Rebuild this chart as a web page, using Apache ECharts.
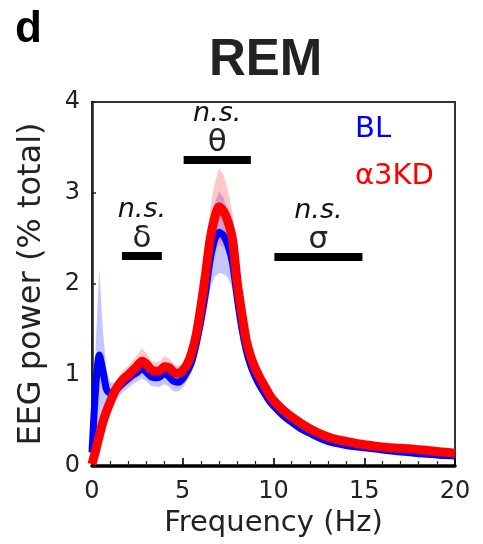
<!DOCTYPE html>
<html>
<head>
<meta charset="utf-8">
<script src="https://cdn.jsdelivr.net/npm/echarts@6/dist/echarts.min.js"></script>
<style>
  html, body { margin: 0; padding: 0; background: #fff; }
  #chart { width: 483px; height: 544px; }
</style>
</head>
<body>
<div id="chart"></div>
<script>
// Frequency bins (Hz)
const freq = [0, 0.2, 0.4, 0.6, 0.8, 1.0,
  1.25, 1.5, 1.75, 2.0, 2.25, 2.5, 2.75, 3.0, 3.25, 3.5, 3.75, 4.0,
  4.25, 4.5, 4.75, 5.0, 5.25, 5.5, 5.75, 6.0, 6.25, 6.5, 6.75, 7.0,
  7.25, 7.5, 7.75, 8.0, 8.25, 8.5, 8.75, 9.0, 9.25, 9.5, 9.75, 10,
  10.5, 11, 11.5, 12, 12.5, 13, 13.5, 14, 14.5, 15, 15.5, 16,
  16.5, 17, 17.5, 18, 18.5, 19, 19.5, 20];

// Baseline (BL) mean REM EEG power and SEM (% total)
const blMean = [0.15, 0.85, 1.22, 1.05, 0.84, 0.80,
  0.82, 0.87, 0.92, 0.96, 1.00, 1.03, 1.07, 1.03, 0.98, 0.97, 0.98, 1.02,
  0.98, 0.93, 0.92, 0.96, 1.04, 1.15, 1.35, 1.60, 1.90, 2.25, 2.48, 2.57,
  2.53, 2.42, 2.22, 1.85, 1.52, 1.27, 1.10, 0.98, 0.88, 0.80, 0.72, 0.66,
  0.56, 0.48, 0.41, 0.36, 0.31, 0.27, 0.245, 0.225, 0.21, 0.20, 0.19, 0.175,
  0.165, 0.155, 0.145, 0.135, 0.13, 0.12, 0.115, 0.11];
const blSem = [0.08, 0.45, 0.95, 0.45, 0.20, 0.12,
  0.10, 0.10, 0.10, 0.10, 0.10, 0.10, 0.11, 0.10, 0.10, 0.10, 0.11, 0.12,
  0.11, 0.11, 0.10, 0.10, 0.10, 0.12, 0.15, 0.20, 0.25, 0.32, 0.40, 0.45,
  0.42, 0.35, 0.28, 0.20, 0.15, 0.10, 0.08, 0.07, 0.06, 0.06, 0.06, 0.05,
  0.05, 0.04, 0.04, 0.04, 0.04, 0.04, 0.04, 0.03, 0.03, 0.03, 0.03, 0.03,
  0.03, 0.03, 0.03, 0.03, 0.03, 0.03, 0.03, 0.03];

// α3 knockdown (α3KD) mean REM EEG power and SEM (% total)
const kdMean = [0.02, 0.17, 0.33, 0.48, 0.60, 0.70,
  0.82, 0.90, 0.96, 1.00, 1.05, 1.10, 1.15, 1.12, 1.06, 1.04, 1.05, 1.09,
  1.08, 1.03, 1.02, 1.05, 1.12, 1.25, 1.45, 1.75, 2.10, 2.48, 2.72, 2.85,
  2.80, 2.68, 2.48, 2.02, 1.68, 1.38, 1.20, 1.07, 0.97, 0.88, 0.79, 0.72,
  0.62, 0.54, 0.47, 0.41, 0.36, 0.32, 0.29, 0.27, 0.25, 0.235, 0.22, 0.21,
  0.20, 0.195, 0.19, 0.18, 0.17, 0.16, 0.15, 0.14];
const kdSem = [0.05, 0.06, 0.07, 0.08, 0.08, 0.08,
  0.08, 0.09, 0.10, 0.10, 0.11, 0.12, 0.14, 0.12, 0.10, 0.10, 0.10, 0.12,
  0.10, 0.09, 0.08, 0.08, 0.10, 0.12, 0.15, 0.20, 0.26, 0.33, 0.38, 0.42,
  0.40, 0.34, 0.28, 0.20, 0.15, 0.10, 0.08, 0.07, 0.06, 0.06, 0.06, 0.05,
  0.05, 0.05, 0.05, 0.05, 0.05, 0.05, 0.05, 0.04, 0.04, 0.04, 0.04, 0.04,
  0.04, 0.04, 0.04, 0.04, 0.04, 0.04, 0.04, 0.04];

// Frequency bands compared between conditions (Hz)
const deltaBand = [1.65, 3.85];
const thetaBand = [5.05, 8.75];
const sigmaBand = [10.05, 14.9];

const yTicks = [0, 1, 2, 3, 4];
const xTicks = [0, 5, 10, 15, 20];

const FONT = 'DejaVu Sans';

function pairs(ys) { return freq.map((f, i) => [f, ys[i]]); }
// rows of [frequency, mean - sem, mean + sem]
function bandRows(mean, sem) { return freq.map((f, i) => [f, mean[i] - sem[i], mean[i] + sem[i]]); }

// Shaded SEM envelope drawn as one polygon through the axis scales
function envelope(rows, fill) {
  return function (params, api) {
    if (params.dataIndex !== 0) return null;
    const top = rows.map(r => api.coord([r[0], r[2]]));
    const bottom = rows.map(r => api.coord([r[0], r[1]])).reverse();
    return {
      type: 'polygon',
      shape: { points: top.concat(bottom) },
      style: { fill: fill, stroke: null }
    };
  };
}

// Significance bar over a frequency band, with "n.s." and the band symbol above it
function bandBar(range, y, greek) {
  return [
    {
      coord: [range[0], y],
      label: {
        show: true,
        position: 'insideMiddleTop',
        distance: 2,
        formatter: '{a|n.s.}\n{b|' + greek + '}',
        rich: {
          a: { fontFamily: FONT, fontStyle: 'italic', fontSize: 27, lineHeight: 28, color: '#111', align: 'center' },
          b: { fontFamily: FONT, fontSize: 31, lineHeight: 30, color: '#222', align: 'center' }
        }
      }
    },
    { coord: [range[1], y] }
  ];
}

const chart = echarts.init(document.getElementById('chart'), null, { renderer: 'canvas' });

const blRows = bandRows(blMean, blSem);
const kdRows = bandRows(kdMean, kdSem);

chart.setOption({
  animation: false,
  backgroundColor: '#fff',
  grid: {
    left: 92, right: 28, top: 102, bottom: 78,
    show: true, borderColor: '#333', borderWidth: 2, backgroundColor: 'transparent'
  },
  legend: {
    orient: 'vertical',
    left: 345, top: 110,
    itemGap: 18,
    itemWidth: 0, itemHeight: 0,
    icon: 'none',
    selectedMode: false,
    textStyle: { fontFamily: FONT, fontSize: 29, padding: 0 },
    data: [
      { name: 'BL', textStyle: { color: '#0000ff' } },
      { name: 'α3KD', textStyle: { color: '#ff0000' } }
    ]
  },
  graphic: [
    { type: 'text', left: 15, top: 8,
      style: { text: 'd', fontFamily: 'Liberation Sans', fontWeight: 'bold', fontSize: 44, fill: '#000' } },
    { type: 'text', left: 209, top: 35,
      style: { text: 'REM', fontFamily: 'Liberation Sans', fontWeight: 'bold', fontSize: 51, fill: '#222' } }
  ],
  xAxis: {
    type: 'value',
    min: xTicks[0], max: xTicks[xTicks.length - 1], interval: 5,
    name: 'Frequency (Hz)',
    nameLocation: 'middle',
    nameGap: 42,
    nameTextStyle: { fontFamily: FONT, fontSize: 29, color: '#222' },
    axisLine: { show: true, onZero: false, lineStyle: { color: '#000', width: 3.5 } },
    axisTick: { show: true, inside: true, length: 8, lineStyle: { color: '#000', width: 1.6 } },
    minorTick: { show: true, splitNumber: 5, length: 5, lineStyle: { color: '#222', width: 1.2 } },
    axisLabel: { fontFamily: FONT, fontSize: 24, color: '#222', margin: 14 },
    splitLine: { show: false },
    minorSplitLine: { show: false }
  },
  yAxis: {
    type: 'value',
    min: yTicks[0], max: yTicks[yTicks.length - 1], interval: 1,
    name: 'EEG power (% total)',
    nameLocation: 'middle',
    nameGap: 44,
    nameTextStyle: { fontFamily: FONT, fontSize: 32, color: '#222' },
    axisLine: { show: true, lineStyle: { color: '#222', width: 2.5 } },
    axisTick: { show: true, inside: true, length: 4, lineStyle: { color: '#222', width: 1.5 } },
    axisLabel: { fontFamily: FONT, fontSize: 24, color: '#222', margin: 12 },
    splitLine: { show: false }
  },
  series: [
    { name: 'bl-sem', type: 'custom', data: blRows, clip: true, silent: true,
      encode: { x: 0, y: [1, 2] },
      renderItem: envelope(blRows, 'rgba(40,40,255,0.27)') },
    { name: 'BL', type: 'line', data: pairs(blMean),
      symbol: 'none', smooth: 0.25, color: '#0000ff',
      lineStyle: { color: '#0000ff', width: 7 } },
    { name: 'kd-sem', type: 'custom', data: kdRows, clip: true, silent: true,
      encode: { x: 0, y: [1, 2] },
      renderItem: envelope(kdRows, 'rgba(255,40,40,0.26)') },
    { name: 'α3KD', type: 'line', data: pairs(kdMean),
      symbol: 'none', smooth: 0.25, color: '#ff0000',
      lineStyle: { color: '#ff0000', width: 9 },
      markLine: {
        silent: true,
        symbol: ['none', 'none'],
        lineStyle: { color: '#000', width: 8, type: 'solid' },
        data: [
          bandBar(deltaBand, 2.31, 'δ'),
          bandBar(thetaBand, 3.36, 'θ'),
          bandBar(sigmaBand, 2.30, 'σ')
        ]
      }
    }
  ]
});
</script>
</body>
</html>
